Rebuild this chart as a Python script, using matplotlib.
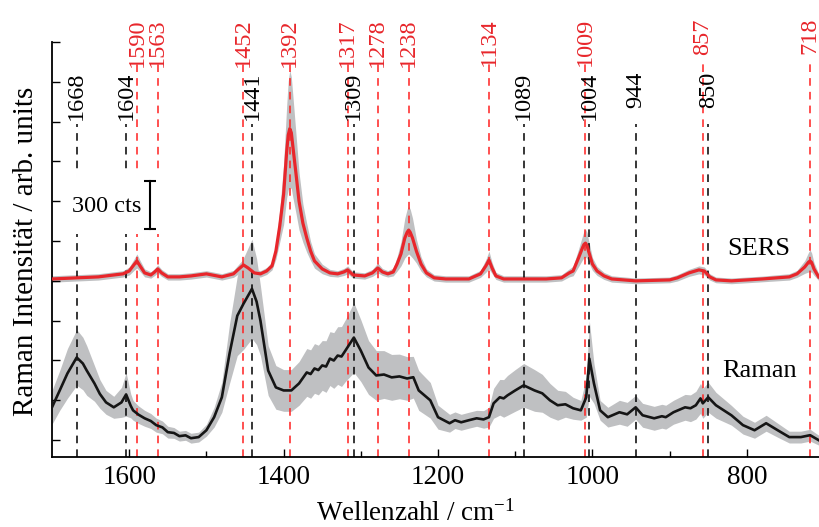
import numpy as np
import matplotlib
matplotlib.use("Agg")
import matplotlib.pyplot as plt
from matplotlib.patches import Rectangle

plt.rcParams['font.family'] = ['Liberation Serif', 'DejaVu Serif']
plt.rcParams['mathtext.default'] = 'regular'

# --- SERS spectrum (mean and spread, cts incl. offset) ---
sers_wn = [1700, 1668, 1640, 1620, 1608, 1600, 1594, 1590, 1586, 1580, 1572, 1567, 1563, 1558,
           1550, 1535, 1520, 1500, 1480, 1465, 1458, 1452, 1446, 1438, 1430, 1422, 1415, 1410,
           1405, 1400, 1396, 1394, 1392, 1390, 1388, 1384, 1380, 1375, 1370, 1365, 1360, 1350,
           1340, 1330, 1322, 1317, 1310, 1295, 1285, 1278, 1272, 1265, 1258, 1253, 1248, 1243,
           1240, 1238, 1236, 1233, 1228, 1222, 1215, 1205, 1190, 1160, 1145, 1138, 1134, 1130,
           1125, 1115, 1089, 1060, 1040, 1030, 1025, 1018, 1013, 1011, 1009, 1007, 1005, 1000,
           994, 985, 975, 944, 900, 890, 875, 862, 855, 848, 840, 820, 780, 745, 735, 725, 720,
           718, 716, 713, 707]
sers_mean = [1012, 1019, 1025, 1037, 1044, 1062, 1100, 1125, 1094, 1050, 1037, 1056, 1075, 1050,
             1025, 1025, 1031, 1044, 1025, 1044, 1075, 1100, 1081, 1050, 1044, 1062, 1094, 1187,
             1344, 1544, 1812, 1915, 1956, 1930, 1844, 1675, 1500, 1362, 1269, 1187, 1125, 1075,
             1050, 1044, 1056, 1069, 1037, 1031, 1050, 1081, 1056, 1044, 1056, 1106, 1169, 1269,
             1305, 1319, 1305, 1269, 1187, 1106, 1050, 1019, 1012, 1012, 1044, 1094, 1131, 1081,
             1031, 1012, 1012, 1012, 1019, 1050, 1062, 1144, 1206, 1228, 1237, 1222, 1187, 1106,
             1062, 1031, 1012, 1000, 1006, 1019, 1050, 1069, 1062, 1025, 1006, 1000, 1012, 1025,
             1044, 1087, 1118, 1125, 1115, 1075, 1025]
sers_sd = [20, 20, 20, 20, 20, 25, 35, 44, 35, 25, 20, 22, 25, 22,
           20, 20, 20, 20, 20, 22, 30, 38, 30, 22, 20, 22, 25, 50,
           100, 190, 290, 340, 369, 350, 320, 250, 180, 120, 90, 60, 45, 30,
           22, 20, 22, 25, 20, 20, 22, 31, 22, 20, 25, 45, 75, 125,
           145, 150, 145, 125, 75, 45, 25, 20, 20, 20, 22, 40, 56, 35,
           22, 20, 20, 20, 20, 25, 30, 55, 75, 84, 87, 82, 70, 40,
           28, 22, 20, 18, 18, 20, 22, 25, 25, 20, 18, 18, 18, 20,
           22, 40, 62, 69, 60, 40, 22]

# --- Raman spectrum (mean and spread, cts) ---
raman_wn = [1700, 1690, 1680, 1668, 1660, 1655, 1645, 1638, 1630, 1620, 1610, 1604, 1598, 1595,
            1588, 1580, 1572, 1565, 1557, 1550, 1542, 1535, 1527, 1520, 1510, 1500, 1490, 1480,
            1470, 1460, 1452, 1441, 1435, 1430, 1420, 1410, 1400, 1390, 1380, 1370, 1365, 1360,
            1355, 1350, 1345, 1340, 1335, 1330, 1325, 1320, 1309, 1300, 1290, 1280, 1270, 1260,
            1250, 1240, 1232, 1225, 1210, 1200, 1185, 1178, 1170, 1160, 1150, 1141, 1134, 1128,
            1120, 1115, 1110, 1100, 1089, 1075, 1065, 1055, 1045, 1035, 1025, 1015, 1008, 1004,
            998, 990, 980, 965, 955, 944, 935, 920, 910, 905, 895, 880, 873, 866, 860, 857, 850,
            840, 820, 805, 790, 775, 760, 745, 730, 718, 707]
raman_mean = [206, 312, 419, 519, 481, 437, 356, 290, 237, 206, 237, 287, 215, 187,
              160, 137, 120, 94, 80, 50, 45, 25, 30, 12, 19, 62, 144, 269,
              544, 781, 856, 950, 870, 750, 437, 331, 312, 312, 356, 425, 415, 450,
              440, 469, 462, 512, 500, 531, 525, 562, 644, 562, 456, 406, 412, 394,
              400, 387, 395, 312, 250, 144, 106, 125, 112, 125, 137, 130, 144, 231,
              269, 262, 281, 312, 344, 312, 294, 250, 219, 225, 200, 187, 269, 512,
              356, 187, 144, 175, 162, 206, 156, 137, 150, 144, 175, 206, 200, 219, 262, 231, 269,
              219, 156, 94, 62, 106, 62, 19, 19, 31, 0]
raman_sd = [106, 125, 156, 175, 165, 156, 112, 90, 75, 69, 94, 137, 75, 62,
            55, 50, 47, 44, 40, 37, 34, 31, 31, 31, 31, 37, 62, 94,
            187, 250, 287, 312, 270, 219, 156, 137, 131, 131, 137, 150, 152, 156,
            156, 156, 162, 169, 175, 181, 188, 194, 219, 194, 169, 156, 150, 144,
            140, 137, 131, 125, 112, 75, 56, 52, 50, 50, 50, 55, 62, 94,
            112, 118, 125, 131, 137, 131, 119, 106, 94, 81, 69, 62, 125, 237,
            125, 62, 62, 75, 75, 75, 75, 75, 75, 75, 75, 81, 84, 87, 94, 94, 94,
            81, 62, 56, 50, 50, 44, 37, 37, 37, 31]

# --- band assignments ---
black_bands = [1668, 1604, 1441, 1309, 1089, 1004, 944, 850]
red_bands = [1590, 1563, 1452, 1392, 1317, 1278, 1238, 1134, 1009, 857, 718]

RED = '#e8262b'
GREY = '#bfc0c2'
y_lo, y_hi = -106, 2500

fig = plt.figure(figsize=(8.19, 5.27), dpi=100)
ax = fig.add_axes([52 / 819, 70 / 527, 767 / 819, 415 / 527])

s_m = np.array(sers_mean, float)
s_d = np.array(sers_sd, float)
r_m = np.array(raman_mean, float)
r_d = np.array(raman_sd, float)

ax.fill_between(sers_wn, s_m - s_d, s_m + s_d, color=GREY, lw=0, zorder=1)
ax.fill_between(raman_wn, r_m - r_d, r_m + r_d, color=GREY, lw=0, zorder=1)

dash = (0, (5, 4))
for wn in black_bands:
    ax.plot([wn, wn], [y_lo, 1987], color='black', lw=1.1, ls=dash, zorder=2)
    ax.text(wn, 2312, str(wn), rotation=90, ha='center', va='top', fontsize=17.5,
            color='black', clip_on=False)
for wn in red_bands:
    ax.plot([wn, wn], [y_lo, 2362], color='#ff2020', lw=1.1, ls=dash, zorder=2)
    ax.text(wn, 2650, str(wn), rotation=90, ha='center', va='top', fontsize=17.5,
            color=RED, clip_on=False)

ax.plot(sers_wn, s_m, color=RED, lw=2.3, zorder=3)
ax.plot(raman_wn, r_m, color='#151515', lw=1.9, zorder=3)

# scale bar on a white patch that hides the dashed lines behind it
ax.add_patch(Rectangle((1554, 1294), 132, 377, facecolor='white', edgecolor='none', zorder=2.5))
ax.plot([1573, 1573], [1325, 1625], color='black', lw=1.5, marker='_', ms=8, mew=1.5, zorder=4)
ax.text(1584, 1469, '300 cts', ha='right', va='center', fontsize=17.5, zorder=4)

ax.text(785, 1200, 'SERS', ha='center', va='center', fontsize=19)
ax.text(784, 437, 'Raman', ha='center', va='center', fontsize=19)

ax.set_xlim(1700, 706.5)
ax.set_ylim(y_lo, y_hi)
ax.set_xticks([1600, 1400, 1200, 1000, 800])
ax.set_xticks([1500, 1300, 1100, 900], minor=True)
ax.set_yticks(np.arange(0, 2501, 250))
ax.set_yticklabels([])
ax.tick_params(axis='both', which='major', direction='in', length=6, width=1.0,
               labelsize=19.5)
ax.tick_params(axis='x', which='major', pad=6)
ax.tick_params(axis='x', which='minor', direction='in', length=4, width=1.0)
for side in ['top', 'right']:
    ax.spines[side].set_visible(False)
for side in ['left', 'bottom']:
    ax.spines[side].set_linewidth(1.3)

fig.text(416 / 819, 6 / 527, 'Wellenzahl / cm$^{-1}$', ha='center', va='baseline', fontsize=19.5)
fig.text(26 / 819, 1 - 251 / 527, 'Raman Intensität / arb. units', rotation=90,
         ha='center', va='center', fontsize=21)

fig.savefig('out.png', dpi=100)
